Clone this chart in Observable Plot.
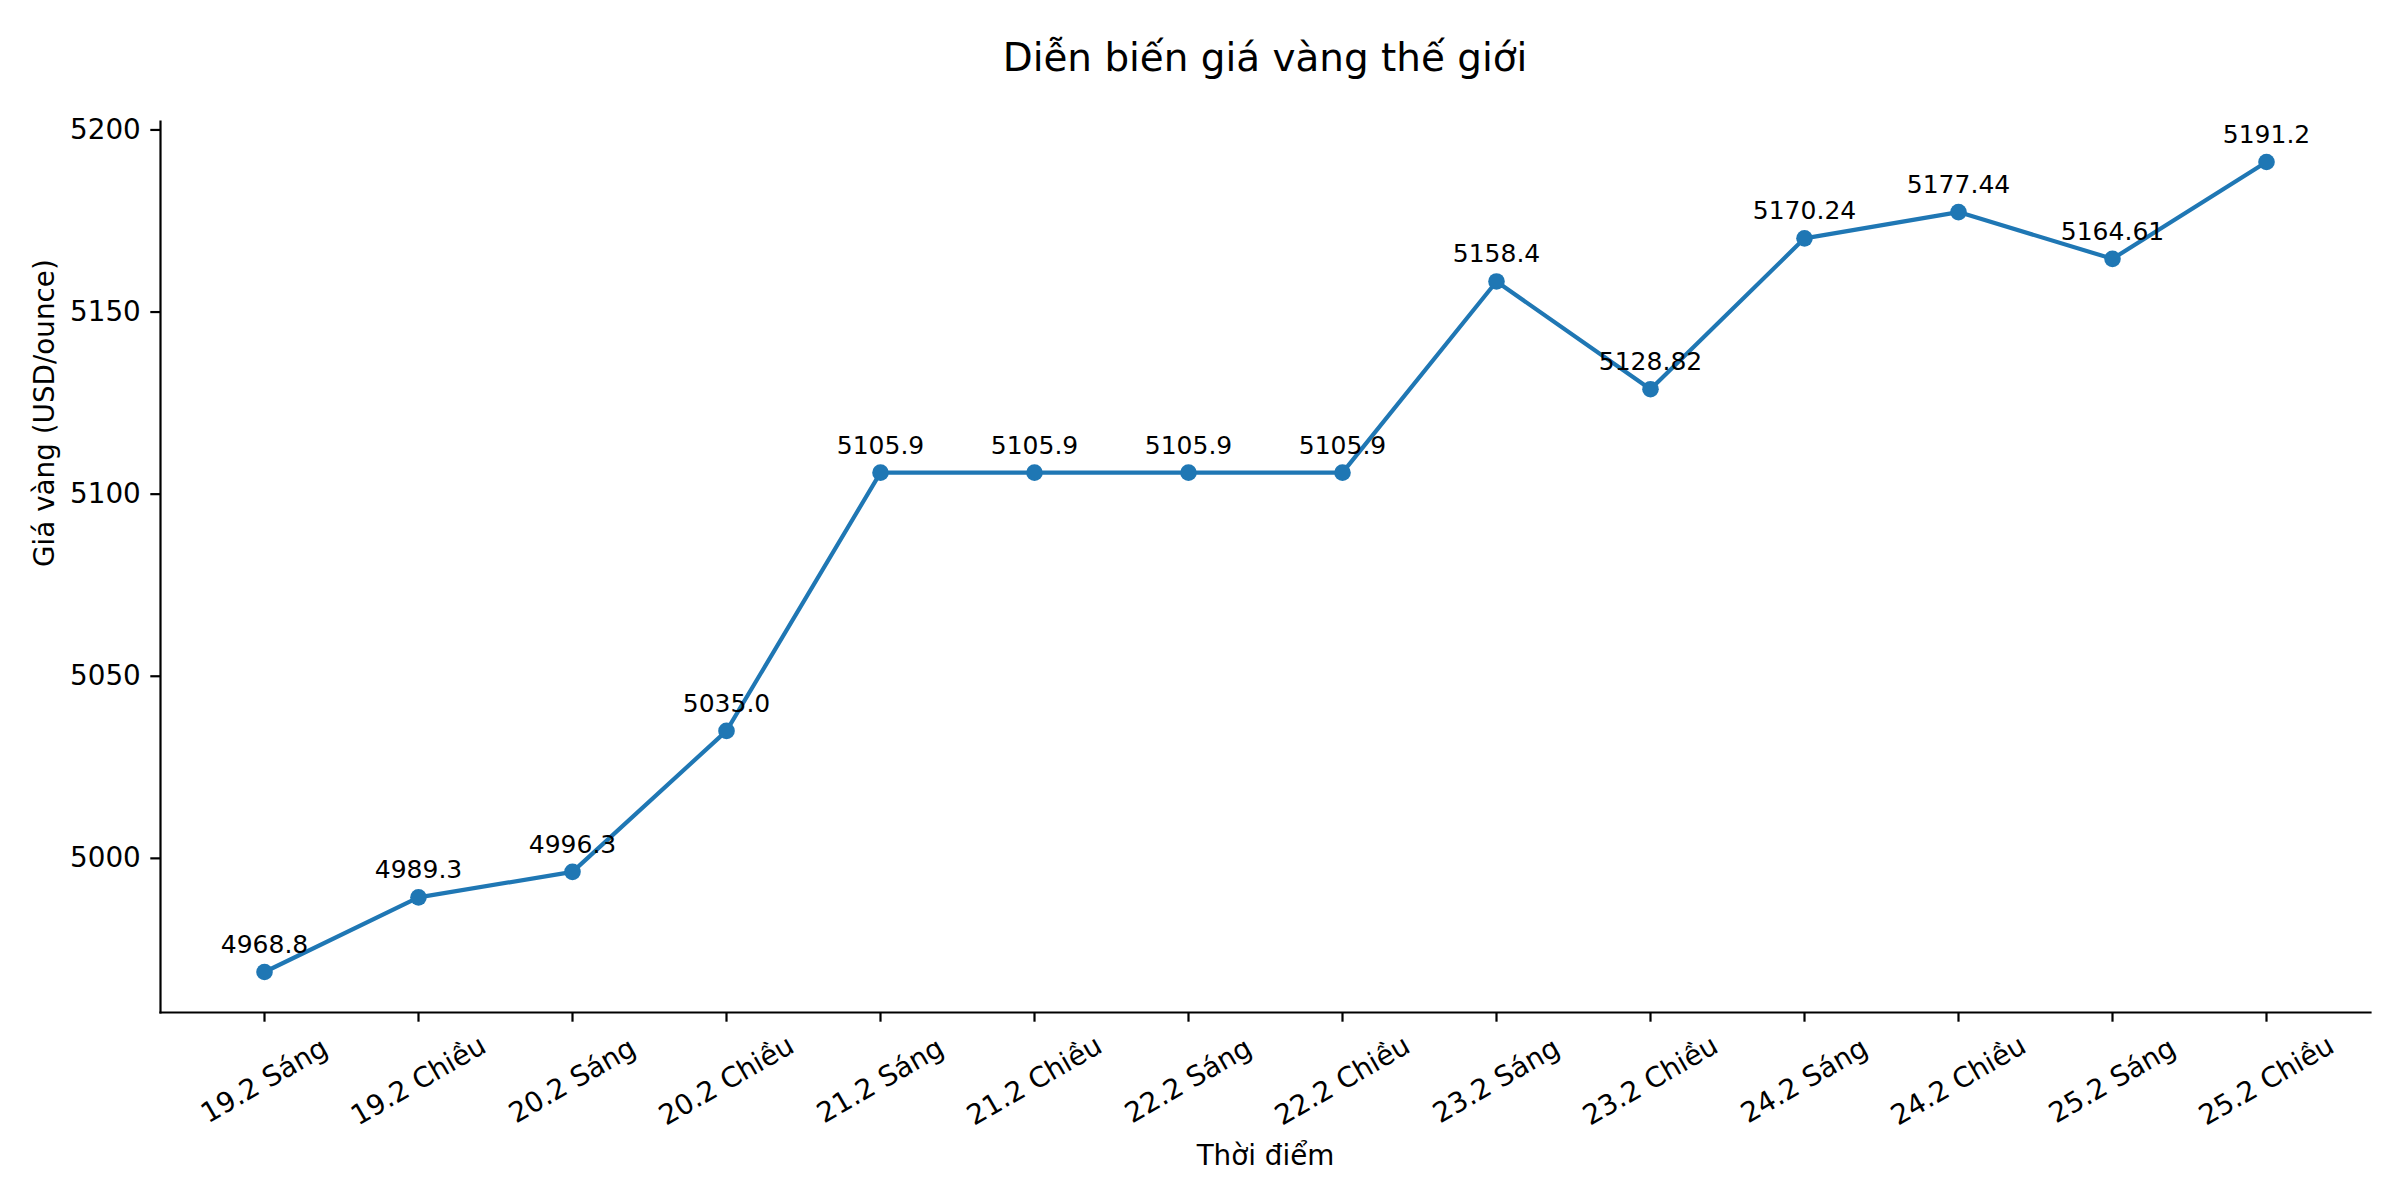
<!DOCTYPE html>
<html>
<head>
<meta charset="utf-8">
<script src="https://cdn.jsdelivr.net/npm/d3@7"></script>
<script src="https://cdn.jsdelivr.net/npm/@observablehq/plot@0.6"></script>
<style>
  html, body { margin: 0; padding: 0; background: #fff; }
  #chart { width: 2400px; font-family: "DejaVu Sans", sans-serif; }
  #title {
    box-sizing: border-box; width: 2400px; height: 90px;
    padding: 35px 30px 0 160px; text-align: center;
    font-size: 38.9px; line-height: 46px; color: #000;
  }
</style>
</head>
<body>
<div id="chart">
  <div id="title">Diễn biến giá vàng thế giới</div>
</div>
<script>
const title = "Diễn biến giá vàng thế giới";
const xLabel = "Thời điểm";
const yLabel = "Giá vàng (USD/ounce)";
const times = ["19.2 Sáng","19.2 Chiều","20.2 Sáng","20.2 Chiều","21.2 Sáng","21.2 Chiều","22.2 Sáng","22.2 Chiều","23.2 Sáng","23.2 Chiều","24.2 Sáng","24.2 Chiều","25.2 Sáng","25.2 Chiều"];
const prices = [4968.8, 4989.3, 4996.3, 5035.0, 5105.9, 5105.9, 5105.9, 5105.9, 5158.4, 5128.82, 5170.24, 5177.44, 5164.61, 5191.2];
const yTicks = [5000, 5050, 5100, 5150, 5200];

const data = times.map((t, i) => ({time: t, price: prices[i]}));
const fmt = v => Number.isInteger(v) ? v.toFixed(1) : String(v);

const lo = d3.min(prices), hi = d3.max(prices), pad = (hi - lo) * 0.05;
const color = "#1f77b4";
const font = "DejaVu Sans";

const chart = Plot.plot({
  width: 2400,
  height: 1110,
  marginTop: 31,
  marginBottom: 188,
  marginLeft: 160,
  marginRight: 30,
  style: {fontFamily: font, background: "#fff", color: "#000"},
  x: {type: "point", domain: times, padding: 0.65, label: null},
  y: {domain: [lo - pad, hi + pad], label: null},
  marks: [
    Plot.frame({anchor: "left", stroke: "#000", strokeWidth: 2.2}),
    Plot.frame({anchor: "bottom", stroke: "#000", strokeWidth: 2.2}),
    Plot.axisY({ticks: yTicks, tickSize: 9.7, tickPadding: 10, fontSize: 27.8, strokeWidth: 2.2, tickFormat: d => String(d)}),
    Plot.axisX({tickSize: 9.7, tickRotate: -30, textAnchor: "middle", lineAnchor: "middle", tickPadding: 58.6, fontSize: 27.8, strokeWidth: 2.2}),
    Plot.text([xLabel], {frameAnchor: "bottom", dy: 152, lineAnchor: "bottom", fontSize: 27.8, fill: "#000"}),
    Plot.text([yLabel], {frameAnchor: "left", dx: -107, rotate: -90, lineAnchor: "bottom", fontSize: 27.8, fill: "#000"}),
    Plot.line(data, {x: "time", y: "price", stroke: color, strokeWidth: 4.17}),
    Plot.dot(data, {x: "time", y: "price", r: 8.3, fill: color, stroke: null}),
    Plot.text(data, {x: "time", y: "price", text: d => fmt(d.price), dy: -19, lineAnchor: "bottom", fontSize: 25, fill: "#000"})
  ]
});
document.getElementById("chart").appendChild(chart);
</script>
</body>
</html>
